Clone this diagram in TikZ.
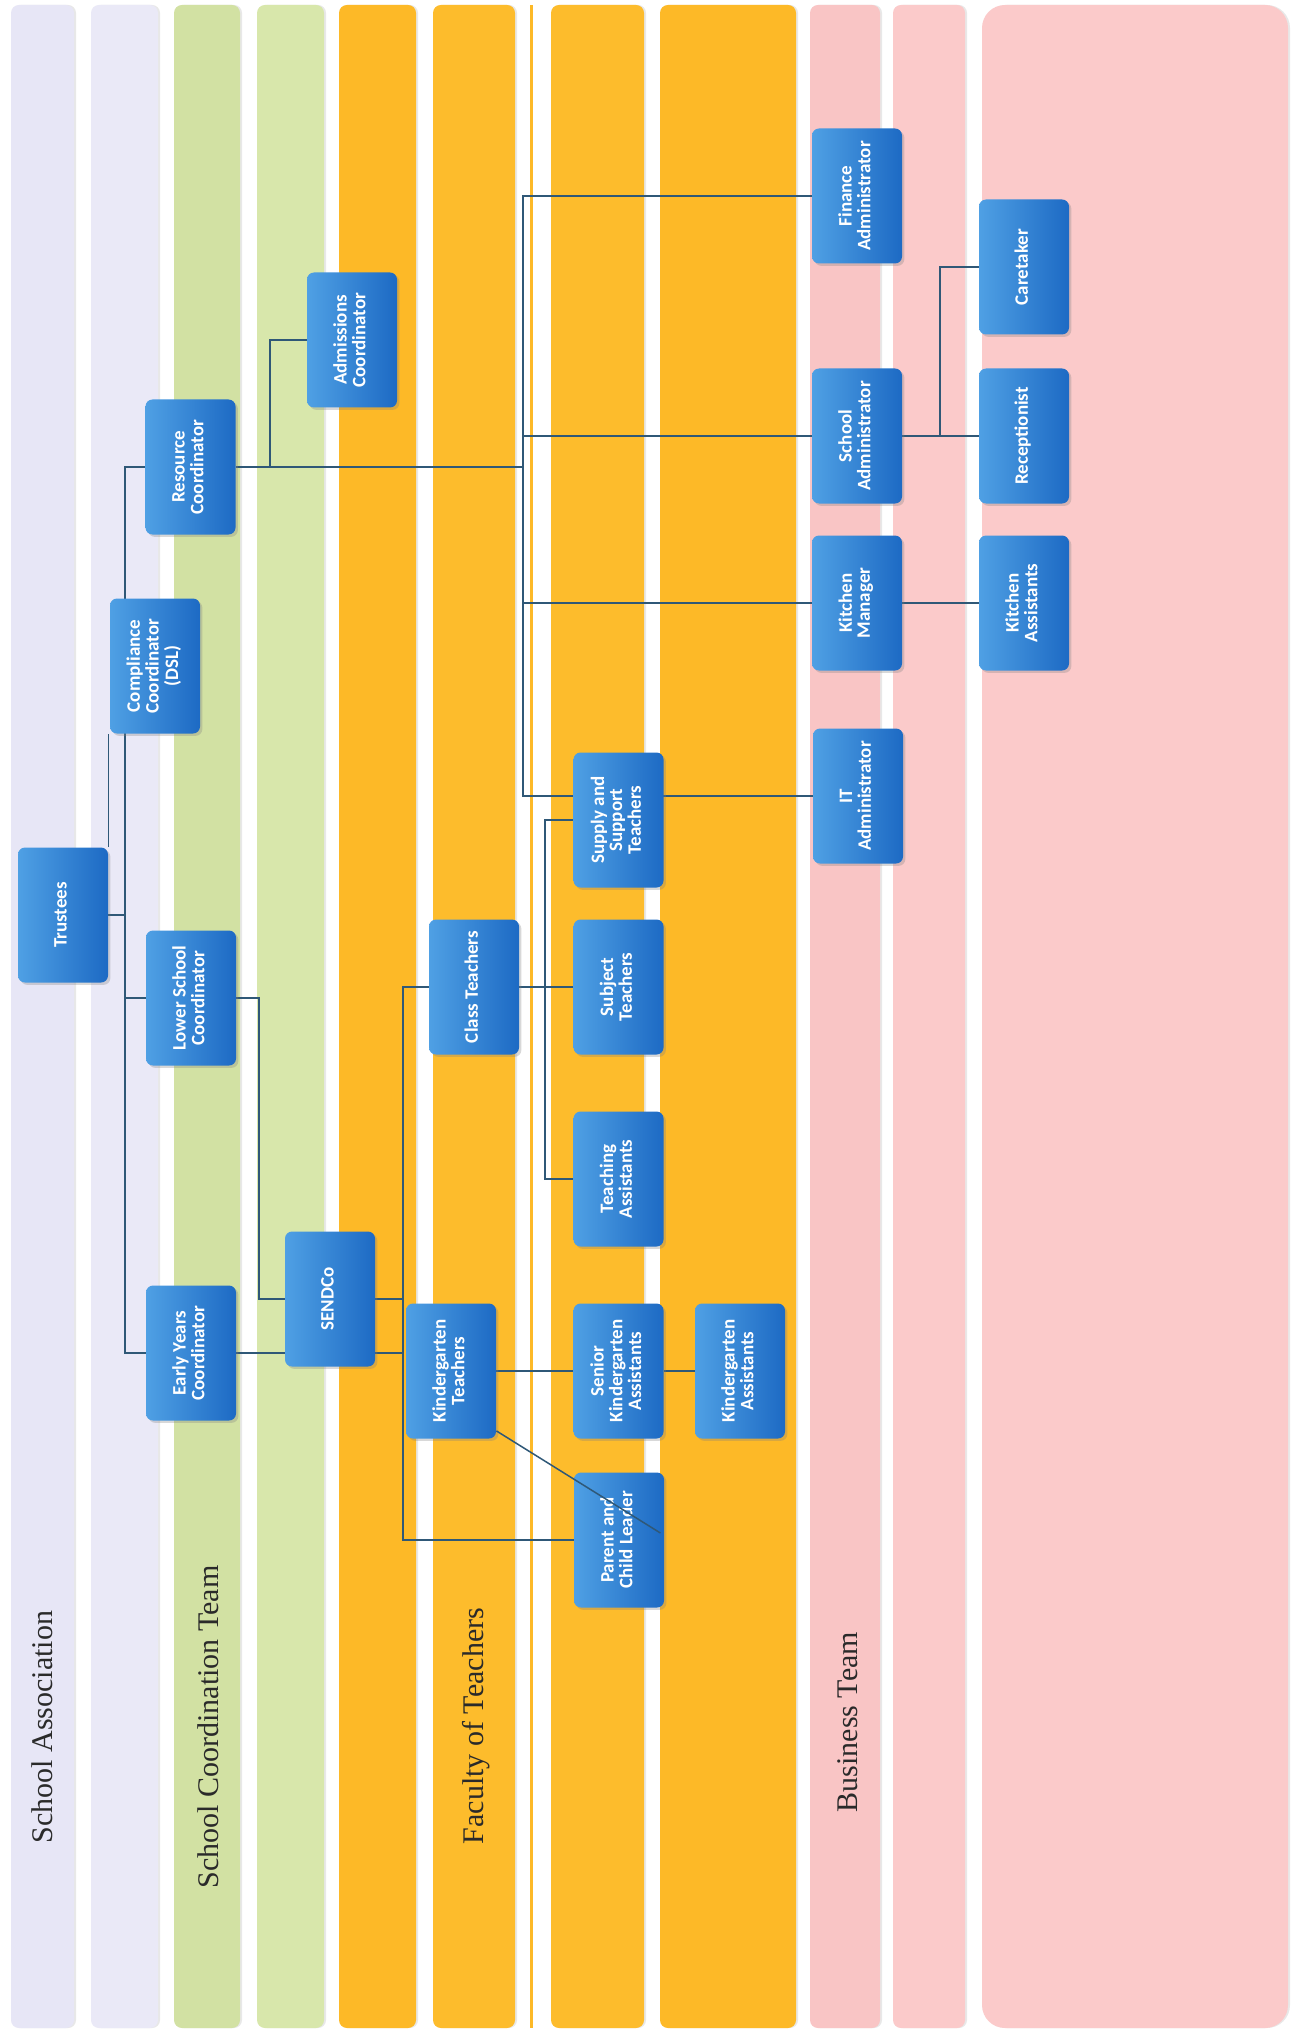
\documentclass[tikz,border=0pt]{standalone}
\usepackage{fontspec}
\newfontfamily\titlefont{Liberation Serif}
\newfontfamily\boxfont{Carlito}
\usetikzlibrary{shadows,calc}
\definecolor{lavA}{HTML}{E7E6F6}
\definecolor{lavB}{HTML}{EAE9F7}
\definecolor{grnA}{HTML}{D2E1A3}
\definecolor{grnB}{HTML}{D8E7AB}
\definecolor{orgA}{HTML}{FDB927}
\definecolor{orgB}{HTML}{FDBC2C}
\definecolor{pnkA}{HTML}{F9C5C5}
\definecolor{pnkB}{HTML}{FBCACA}
\definecolor{boxL}{HTML}{4FA0E4}
\definecolor{boxR}{HTML}{1D6AC4}
\definecolor{lineC}{HTML}{2F5877}
\definecolor{titleC}{HTML}{2A2A2A}
\pgfdeclarelayer{stripes}
\pgfdeclarelayer{lines}
\pgfdeclarelayer{over}
\pgfsetlayers{stripes,lines,main,over}
\tikzset{
  stripe/.style={fill=#1, rounded corners=4pt},
  stripeshade/.style={fill=black!9, rounded corners=4pt},
  orgbox/.style={rounded corners=3.5pt, left color=boxL, right color=boxR,
    minimum width=45pt, minimum height=67.5pt, inner sep=0pt, text=white,
    font=\boxfont\bfseries\fontsize{9.5}{9}\selectfont,
    drop shadow={shadow xshift=1.2pt, shadow yshift=-1.2pt, opacity=0.3}},
  conn/.style={draw=lineC, line width=0.75pt},
  lanetitle/.style={rotate=90, anchor=base, inner sep=0pt,
    font=\titlefont\fontsize{15}{18}\selectfont, text=titleC},
}
\newcommand{\rtx}[1]{\rotatebox{90}{\begin{tabular}{@{}c@{}}#1\end{tabular}}}
\begin{document}
\begin{tikzpicture}[x=0.5pt,y=-0.5pt]
\useasboundingbox (0,0) rectangle (1296,2032);
\begin{pgfonlayer}{stripes}
\fill[white] (0,0) rectangle (1296,2032);
% shadows of stripes
\foreach \a/\b in {11/74,91/158,174/240,257/324,339/416,433/515,551/644,660/796,810/880,893/965}
  \fill[stripeshade] (\a+2,5) rectangle (\b+2,2028);
\fill[fill=black!9, rounded corners=11.5pt] (984,5) rectangle (1290,2028);
% stripes
\fill[stripe=lavA] (11,5) rectangle (74,2028);
\fill[stripe=lavB] (91,5) rectangle (158,2028);
\fill[stripe=grnA] (174,5) rectangle (240,2028);
\fill[stripe=grnB] (257,5) rectangle (324,2028);
\fill[stripe=orgA] (339,5) rectangle (416,2028);
\fill[stripe=orgB] (433,5) rectangle (515,2028);
\fill[orgA] (530,5) rectangle (533,2028);
\fill[stripe=orgB] (551,5) rectangle (644,2028);
\fill[stripe=orgA] (660,5) rectangle (796,2028);
\fill[stripe=pnkA] (810,5) rectangle (880,2028);
\fill[stripe=pnkB] (893,5) rectangle (965,2028);
\fill[fill=pnkB, rounded corners=11.5pt] (982,5) rectangle (1288,2028);
% lane titles
\node[lanetitle] (tSA) at (52,1727) {School Association};
\node[lanetitle] (tSCT) at (218,1727) {School Coordination Team};
\node[lanetitle] (tFT) at (483,1726) {Faculty of Teachers};
\node[lanetitle] (tBT) at (857,1722) {Business Team};
\end{pgfonlayer}

% boxes
\node[orgbox] (trustees) at (63,915) {\rtx{Trustees}};
\node[orgbox] (compliance) at (155,666) {\rtx{Compliance\\Coordinator\\(DSL)}};
\node[orgbox] (resource) at (190.5,467) {\rtx{Resource\\Coordinator}};
\node[orgbox] (lower) at (191,998) {\rtx{Lower School\\Coordinator}};
\node[orgbox] (early) at (191,1353) {\rtx{Early Years\\Coordinator}};
\node[orgbox] (admissions) at (352,340) {\rtx{Admissions\\Coordinator}};
\node[orgbox] (sendco) at (330,1299) {\rtx{SENDCo}};
\node[orgbox] (class) at (474,987) {\rtx{Class Teachers}};
\node[orgbox] (kteach) at (451,1371) {\rtx{Kindergarten\\Teachers}};
\node[orgbox] (supply) at (618.5,820) {\rtx{Supply and\\Support\\Teachers}};
\node[orgbox] (subject) at (618.5,987) {\rtx{Subject\\Teachers}};
\node[orgbox] (teaching) at (618.5,1179) {\rtx{Teaching\\Assistants}};
\node[orgbox] (seniork) at (618.5,1371) {\rtx{Senior\\Kindergarten\\Assistants}};
\node[orgbox] (parent) at (619,1540) {\rtx{Parent and\\Child Leader}};
\node[orgbox] (kassist) at (740,1371) {\rtx{Kindergarten\\Assistants}};
\node[orgbox] (finance) at (857,196) {\rtx{Finance\\Administrator}};
\node[orgbox] (schooladmin) at (857,436) {\rtx{School\\Administrator}};
\node[orgbox] (kitchenmgr) at (857,603) {\rtx{Kitchen\\Manager}};
\node[orgbox] (it) at (858,796) {\rtx{IT\\Administrator}};
\node[orgbox] (caretaker) at (1024,267) {\rtx{Caretaker}};
\node[orgbox] (reception) at (1024,436) {\rtx{Receptionist}};
\node[orgbox] (kitchenassist) at (1024,603) {\rtx{Kitchen\\Assistants}};

% connectors
\begin{pgfonlayer}{lines}
\coordinate (spineTop) at (125,467);
\coordinate (spineBot) at (125,1353);
\draw[conn] (resource.west) -- (spineTop) -- (spineBot) -- (early.west);
\draw[conn] (trustees.east) -- (trustees.east -| spineTop);
\draw[conn] (lower.west -| spineTop) -- (lower.west);
\draw[conn] (trustees.north east) -- (trustees.north east |- compliance.south);
\coordinate (mainX) at (523,467);
\draw[conn] (resource.east) -- (mainX);
\coordinate (admX) at (270,467);
\draw[conn] (admX) |- (admissions.west);
\coordinate (itJ) at (523,796);
\draw[conn] (finance.west) -| (itJ) -- (it.west);
\draw[conn] (schooladmin.west) -- (schooladmin.west -| mainX);
\draw[conn] (kitchenmgr.west) -- (kitchenmgr.west -| mainX);
\draw[conn] (schooladmin.east) -- (reception.west);
\coordinate (busX) at (940,436);
\draw[conn] (busX) |- (caretaker.west);
\draw[conn] (kitchenmgr.east) -- (kitchenassist.west);
\coordinate (lowX) at (259,1299);
\draw[conn] (lower.east) -| (lowX) -- (sendco.west);
\coordinate (sendX) at (403,1353);
\draw[conn] (early.east) -- (sendX);
\draw[conn] (sendco.east) -- (sendco.east -| sendX);
\coordinate (parX) at (403,1540);
\draw[conn] (class.west) -| (parX) -- (parent.west);
\draw[conn] (class.east) -- (subject.west);
\coordinate (tchX) at (545,820);
\draw[conn] (supply.west) -- (tchX) -- (tchX |- teaching.west) -- (teaching.west);
\draw[conn] (kteach.east) -- (seniork.west);
\draw[conn] (seniork.east) -- (kassist.west);
\end{pgfonlayer}
\begin{pgfonlayer}{over}
\draw[conn] ([yshift=4pt]kteach.south east) -- ([xshift=-2pt,yshift=3.5pt]parent.east);
\end{pgfonlayer}
\end{tikzpicture}
\end{document}
